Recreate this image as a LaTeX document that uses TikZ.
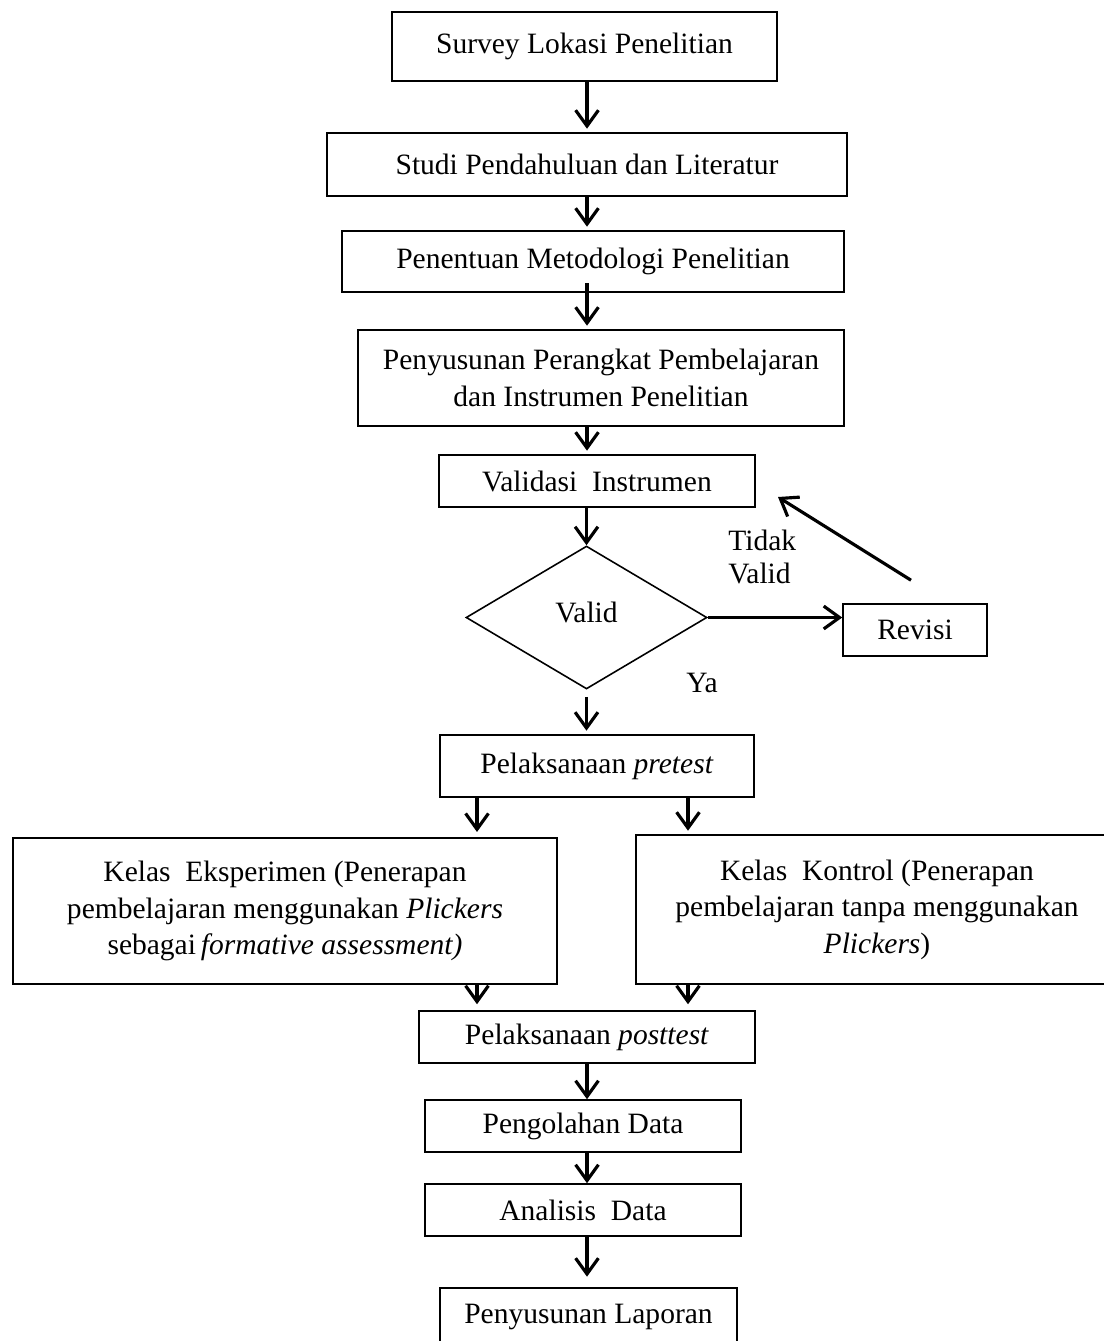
\documentclass[tikz,border=0pt]{standalone}
\usepackage{fontspec}
\setmainfont{Liberation Serif}
\usetikzlibrary{arrows.meta,shapes.geometric,calc}

\begin{document}
\begin{tikzpicture}[x=0.02cm, y=-0.02cm,
  every node/.style={align=center, font=\fontsize{16.8}{20.8}\selectfont, inner sep=0pt},
  box/.style={draw, line width=0.9pt},
  decision/.style={draw, diamond, line width=0.9pt},
  arr/.style={line width=1.8pt, -{Straight Barb[length=9pt,width=13pt]}, shorten >=2pt}]
\useasboundingbox (0,0) rectangle (1104,1341);
\clip (0,0) rectangle (1104,1341);
\coordinate (axis) at (587,0);
\coordinate (lx) at (477,0);
\coordinate (rx) at (688,0);
\node (survey) [box, minimum width=7.7cm, minimum height=1.38cm] at (584.5,46.5) {Survey Lokasi Penelitian};
\node (studi) [box, minimum width=10.4cm, minimum height=1.26cm] at (587,164.5) {Studi Pendahuluan dan Literatur};
\node (metode) [box, minimum width=10.04cm, minimum height=1.22cm] at (593,261.5) {Penentuan Metodologi Penelitian};
\node (perangkat) [box, minimum width=9.72cm, minimum height=1.92cm] at (601,378) {Penyusunan Perangkat Pembelajaran\\dan Instrumen Penelitian};
\node (validasi) [box, minimum width=6.32cm, minimum height=1.04cm] at (597,481) {Validasi\ \ Instrumen};
\node (valid) [decision, minimum width=4.82cm, minimum height=2.86cm] at (586.5,617.5) {\raisebox{5.7pt}{Valid}};
\node (revisi) [box, minimum width=2.88cm, minimum height=1.04cm] at (915,630) {Revisi};
\node (tidak) [anchor=west, align=left, font=\fontsize{16.8}{19.3}\selectfont] at (728,557) {Tidak\\Valid};
\node (ya) at (702,683) {Ya};
\node (pretest) [box, minimum width=6.28cm, minimum height=1.24cm] at (597,766) {Pelaksanaan \textit{pretest}};
\node (eksperimen) [box, minimum width=10.88cm, minimum height=2.92cm] at (285,911) {Kelas\ \ Eksperimen (Penerapan\\pembelajaran menggunakan \textit{Plickers}\\sebagai\,\textit{formative assessment)}};
\node (kontrol) [box, minimum width=9.64cm, minimum height=2.98cm] at (877,909.5) {Kelas\ \ Kontrol (Penerapan\\pembelajaran tanpa menggunakan\\\textit{Plickers})};
\node (posttest) [box, minimum width=6.72cm, minimum height=1.04cm] at (587,1037) {Pelaksanaan \textit{posttest}};
\node (olah) [box, minimum width=6.32cm, minimum height=1.04cm] at (583,1126) {Pengolahan Data};
\node (analisis) [box, minimum width=6.32cm, minimum height=1.04cm] at (583,1210) {Analisis\ \ Data};
\node (laporan) [box, minimum width=5.94cm, minimum height=1.16cm] at (588.5,1317) {Penyusunan Laporan};
\coordinate (back1) at ($(revisi.north)+(-4,-23)$);
\coordinate (back2) at (778,497);
\draw[arr] (survey.south -| axis) -- (studi.north -| axis);
\draw[arr] (studi.south -| axis) -- (metode.north -| axis);
\draw[arr, shorten <=-5.5pt] (metode.south -| axis) -- (perangkat.north -| axis);
\draw[arr] (perangkat.south -| axis) -- (validasi.north -| axis);
\draw[arr, shorten >=0pt] (validasi.south -| valid.north) -- (valid.north);
\draw[arr, shorten >=0pt] (valid.east) -- (valid.east -| revisi.west);
\draw[arr, shorten >=0pt] (back1) -- (back2);
\draw[arr, shorten <=4pt] (valid.south) -- (pretest.north -| valid.south);
\draw[arr, shorten >=3pt] (pretest.south -| lx) -- (eksperimen.north -| lx);
\draw[arr] (pretest.south -| rx) -- (kontrol.north -| rx);
\draw[arr, shorten >=3.4pt] (eksperimen.south -| lx) -- (posttest.north -| lx);
\draw[arr, shorten >=3.4pt] (kontrol.south -| rx) -- (posttest.north -| rx);
\draw[arr, shorten >=0pt] (posttest.south -| axis) -- (olah.north -| axis);
\draw[arr, shorten >=0pt] (olah.south -| axis) -- (analisis.north -| axis);
\draw[arr, shorten >=6pt] (analisis.south -| axis) -- (laporan.north -| axis);
\end{tikzpicture}
\end{document}
